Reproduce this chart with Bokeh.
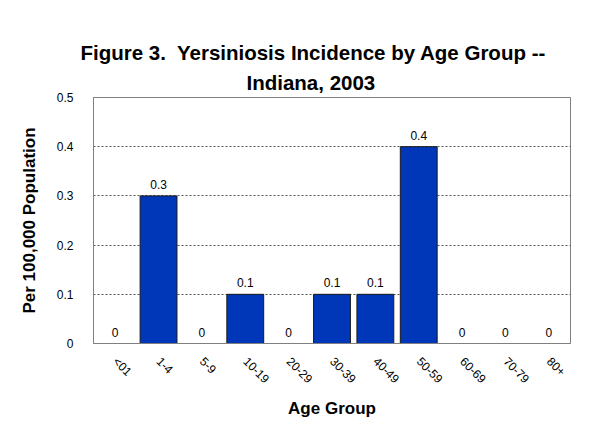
from bokeh.plotting import figure
from bokeh.models import FixedTicker, CustomJSTickFormatter, ColumnDataSource, Title
from bokeh.core.properties import value
from bokeh.embed import file_html
from bokeh.resources import INLINE
import math

categories = ["<01", "1-4", "5-9", "10-19", "20-29", "30-39", "40-49", "50-59", "60-69", "70-79", "80+"]
incidence = [0, 0.3, 0, 0.1, 0, 0.1, 0.1, 0.4, 0, 0, 0]
labels = ["0", "0.3", "0", "0.1", "0", "0.1", "0.1", "0.4", "0", "0", "0"]
y_ticks = [0, 0.1, 0.2, 0.3, 0.4, 0.5]
title_lines = ["Figure 3.\u00a0 Yersiniosis Incidence by Age Group --", "Indiana, 2003"]

FONT = "Liberation Sans"

src = ColumnDataSource(dict(cat=categories, val=incidence, lab=labels))

p = figure(x_range=categories, y_range=(0, 0.5),
           frame_width=477, frame_height=246,
           min_border_left=93, min_border_top=97, min_border_right=28, min_border_bottom=100,
           output_backend="svg", toolbar_location=None, tools="")

p.vbar(x="cat", top="val", width=0.85, source=src,
       fill_color="#0036B8", line_color="#1a1a1a", line_width=1)

p.text(x="cat", y="val", text="lab", source=src, text_align="center",
       text_baseline="bottom", y_offset=-7, text_font=value(FONT),
       text_font_size="12px", text_color="black")

# title: second line added first (closest to the frame)
p.add_layout(Title(text=title_lines[1], align="left", offset=153, standoff=8,
                   text_font=FONT, text_font_size="20.5px", text_font_style="bold",
                   text_color="black"), "above")
p.add_layout(Title(text=title_lines[0], align="left", offset=-13, standoff=1,
                   text_font=FONT, text_font_size="20.5px", text_font_style="bold",
                   text_color="black"), "above")

p.outline_line_color = "#808080"
p.outline_line_width = 1
p.background_fill_color = "white"
p.border_fill_color = "white"

p.xgrid.grid_line_color = None
p.ygrid.ticker = FixedTicker(ticks=[0.1, 0.2, 0.3, 0.4])
p.ygrid.grid_line_color = "#555555"
p.ygrid.grid_line_dash = "2 2"
p.ygrid.grid_line_width = 1

p.yaxis.ticker = FixedTicker(ticks=y_ticks)
p.yaxis.formatter = CustomJSTickFormatter(code="return String(tick);")
p.yaxis.axis_label = "Per 100,000 Population"
p.xaxis.axis_label = "Age Group"

for ax in (p.xaxis, p.yaxis):
    ax.axis_line_color = "#808080"
    ax.major_tick_line_color = None
    ax.minor_tick_line_color = None
    ax.major_label_text_font = FONT
    ax.major_label_text_font_size = "12px"
    ax.major_label_text_color = "black"
    ax.axis_label_text_font = FONT
    ax.axis_label_text_font_size = "17px"
    ax.axis_label_text_font_style = "bold"
    ax.axis_label_text_color = "black"

p.yaxis.major_label_standoff = 14
p.yaxis.axis_label_standoff = 15
p.xaxis.major_label_orientation = -math.pi / 4
p.xaxis.major_label_standoff = 10
p.xaxis.axis_label_standoff = 5
p.x_range.range_padding = 0

open("out.html", "w").write(file_html(p, INLINE))
